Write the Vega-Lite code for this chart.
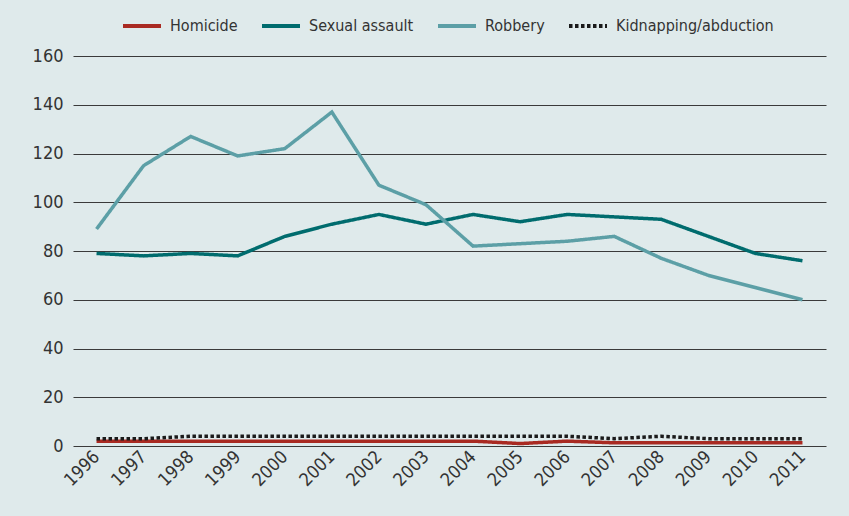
{
  "$schema": "https://vega.github.io/schema/vega-lite/v6.json",
  "width": 753,
  "height": 390,
  "autosize": {"type": "none"},
  "padding": {"left": 73, "top": 56, "right": 23, "bottom": 70},
  "background": "#dfeaeb",
  "config": {
    "view": {"stroke": null},
    "font": "DejaVu Sans Condensed",
    "axis": {"labelFont": "DejaVu Sans Condensed", "labelColor": "#333333", "labelFontSize": 18},
    "legend": {"labelFont": "DejaVu Sans Condensed", "labelColor": "#333333", "labelFontSize": 16}
  },
  "data": {
    "values": [
      {"year": "1996", "series": "Homicide", "value": 2},
      {"year": "1997", "series": "Homicide", "value": 2},
      {"year": "1998", "series": "Homicide", "value": 2},
      {"year": "1999", "series": "Homicide", "value": 2},
      {"year": "2000", "series": "Homicide", "value": 2},
      {"year": "2001", "series": "Homicide", "value": 2},
      {"year": "2002", "series": "Homicide", "value": 2},
      {"year": "2003", "series": "Homicide", "value": 2},
      {"year": "2004", "series": "Homicide", "value": 2},
      {"year": "2005", "series": "Homicide", "value": 1},
      {"year": "2006", "series": "Homicide", "value": 2},
      {"year": "2007", "series": "Homicide", "value": 1.3},
      {"year": "2008", "series": "Homicide", "value": 1.3},
      {"year": "2009", "series": "Homicide", "value": 1.3},
      {"year": "2010", "series": "Homicide", "value": 1.3},
      {"year": "2011", "series": "Homicide", "value": 1.3},
      {"year": "1996", "series": "Sexual assault", "value": 79},
      {"year": "1997", "series": "Sexual assault", "value": 78},
      {"year": "1998", "series": "Sexual assault", "value": 79},
      {"year": "1999", "series": "Sexual assault", "value": 78},
      {"year": "2000", "series": "Sexual assault", "value": 86},
      {"year": "2001", "series": "Sexual assault", "value": 91},
      {"year": "2002", "series": "Sexual assault", "value": 95},
      {"year": "2003", "series": "Sexual assault", "value": 91},
      {"year": "2004", "series": "Sexual assault", "value": 95},
      {"year": "2005", "series": "Sexual assault", "value": 92},
      {"year": "2006", "series": "Sexual assault", "value": 95},
      {"year": "2007", "series": "Sexual assault", "value": 94},
      {"year": "2008", "series": "Sexual assault", "value": 93},
      {"year": "2009", "series": "Sexual assault", "value": 86},
      {"year": "2010", "series": "Sexual assault", "value": 79},
      {"year": "2011", "series": "Sexual assault", "value": 76},
      {"year": "1996", "series": "Robbery", "value": 89},
      {"year": "1997", "series": "Robbery", "value": 115},
      {"year": "1998", "series": "Robbery", "value": 127},
      {"year": "1999", "series": "Robbery", "value": 119},
      {"year": "2000", "series": "Robbery", "value": 122},
      {"year": "2001", "series": "Robbery", "value": 137},
      {"year": "2002", "series": "Robbery", "value": 107},
      {"year": "2003", "series": "Robbery", "value": 99},
      {"year": "2004", "series": "Robbery", "value": 82},
      {"year": "2005", "series": "Robbery", "value": 83},
      {"year": "2006", "series": "Robbery", "value": 84},
      {"year": "2007", "series": "Robbery", "value": 86},
      {"year": "2008", "series": "Robbery", "value": 77},
      {"year": "2009", "series": "Robbery", "value": 70},
      {"year": "2010", "series": "Robbery", "value": 65},
      {"year": "2011", "series": "Robbery", "value": 60},
      {"year": "1996", "series": "Kidnapping/abduction", "value": 3},
      {"year": "1997", "series": "Kidnapping/abduction", "value": 3},
      {"year": "1998", "series": "Kidnapping/abduction", "value": 4},
      {"year": "1999", "series": "Kidnapping/abduction", "value": 4},
      {"year": "2000", "series": "Kidnapping/abduction", "value": 4},
      {"year": "2001", "series": "Kidnapping/abduction", "value": 4},
      {"year": "2002", "series": "Kidnapping/abduction", "value": 4},
      {"year": "2003", "series": "Kidnapping/abduction", "value": 4},
      {"year": "2004", "series": "Kidnapping/abduction", "value": 4},
      {"year": "2005", "series": "Kidnapping/abduction", "value": 4},
      {"year": "2006", "series": "Kidnapping/abduction", "value": 4},
      {"year": "2007", "series": "Kidnapping/abduction", "value": 3},
      {"year": "2008", "series": "Kidnapping/abduction", "value": 4},
      {"year": "2009", "series": "Kidnapping/abduction", "value": 3},
      {"year": "2010", "series": "Kidnapping/abduction", "value": 3},
      {"year": "2011", "series": "Kidnapping/abduction", "value": 3}
    ]
  },
  "mark": {"type": "line", "strokeWidth": 3.5, "strokeCap": "butt"},
  "encoding": {
    "x": {
      "field": "year", "type": "ordinal",
      "scale": {"type": "point", "padding": 0.5},
      "axis": {"title": null, "domain": false, "ticks": false, "labelAngle": -45, "labelAlign": "right", "labelBaseline": "middle", "labelPadding": 8}
    },
    "y": {
      "field": "value", "type": "quantitative",
      "scale": {"domain": [0, 160], "nice": false},
      "axis": {"title": null, "domain": false, "ticks": false, "values": [0,20,40,60,80,100,120,140,160], "labelPadding": 10, "gridColor": "#3a3a3a", "gridOpacity": 1, "gridWidth": 1.2}
    },
    "color": {
      "field": "series", "type": "nominal",
      "scale": {"domain": ["Homicide", "Sexual assault", "Robbery", "Kidnapping/abduction"], "range": ["#a92a22", "#006c6e", "#5c9fa6", "#1a1a1a"]},
      "legend": {"title": null, "orient": "none", "direction": "horizontal", "legendX": 48, "legendY": -51, "symbolType": "stroke", "symbolSize": 1444, "symbolStrokeWidth": 4, "labelOffset": 7, "columnPadding": 16, "labelLimit": 400}
    },
    "strokeDash": {
      "field": "series", "type": "nominal",
      "scale": {"domain": ["Homicide", "Sexual assault", "Robbery", "Kidnapping/abduction"], "range": [[1,0],[1,0],[1,0],[3.5,2.5]]},
      "legend": null
    },
    "order": {"field": "series"}
  }
}
